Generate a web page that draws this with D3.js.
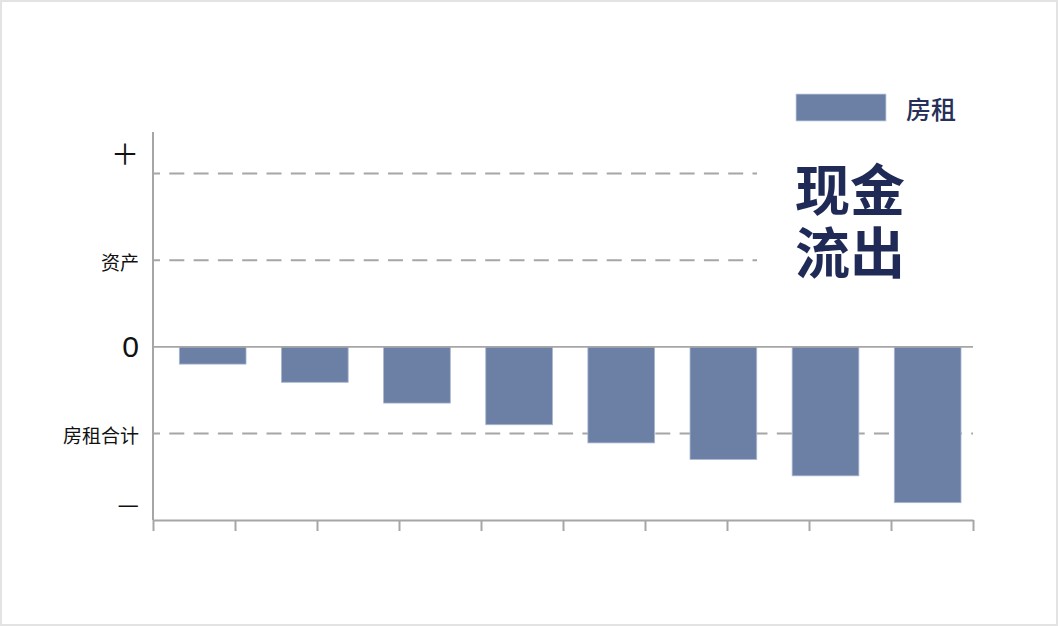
<!DOCTYPE html>
<html><head><meta charset="utf-8">
<script src="https://cdn.jsdelivr.net/npm/d3@7"></script>
<style>body{margin:0;background:#fff}svg{display:block}</style>
</head><body>
<script>
const categories = ["1","2","3","4","5","6","7","8"];
const rentValues = [-0.20,-0.41,-0.65,-0.90,-1.11,-1.30,-1.49,-1.80];
const yTickValues = [2.24, 1, 0, -1, -1.8];
const yTickLabels = ["＋", "资产", "0", "房租合计", "—"];
const refLineValues = [2, 1, -1];
const xTickIndex = [0,1,2,3,4,5,6,7,8,9,10];
const legendLabel = "房租";
const titleLines = ["现金", "流出"];

const W = 1058, H = 626;
const cjk = "'Noto Sans CJK SC','Noto Sans',sans-serif";
const svg = d3.select("body").append("svg").attr("width", W).attr("height", H);
svg.append("rect").attr("x",1).attr("y",1).attr("width",W-2).attr("height",H-2)
  .attr("fill","#fff").attr("stroke","#e3e3e3").attr("stroke-width",2);

const x0 = 153, x1 = 973;
const y = d3.scaleLinear().domain([-2, 2.48]).range([520, 132]);
const x = d3.scaleBand().domain(categories).range([x0, x1])
  .paddingInner(0.347).paddingOuter(0.1876).align(0.687);
const xt = d3.scaleLinear().domain([0, 10]).range([x0, x1]);
const grey = "#a6a6a6";

// reference dashed lines
svg.selectAll("line.ref").data(refLineValues).join("line")
  .attr("x1", x0).attr("x2", d => d > 0 ? 757 : x1)
  .attr("y1", d => y(d)).attr("y2", d => y(d))
  .attr("stroke", grey).attr("stroke-width", 2).attr("stroke-dasharray", "15,9.3")
  .attr("stroke-dashoffset", 8);

// bars
svg.selectAll("rect.bar").data(rentValues).join("rect")
  .attr("x", (d,i) => x(categories[i])).attr("width", x.bandwidth())
  .attr("y", d => y(Math.max(0,d))).attr("height", d => Math.abs(y(d) - y(0)))
  .attr("fill", "#6c80a6").attr("stroke", "#a9b6cf").attr("stroke-width", 0.8);

// zero line
svg.append("line").attr("x1", x0).attr("x2", x1).attr("y1", y(0)).attr("y2", y(0))
  .attr("stroke", grey).attr("stroke-width", 1.8);

// y axis line
svg.append("line").attr("x1", x0).attr("x2", x0).attr("y1", y(2.48)).attr("y2", y(-2))
  .attr("stroke", grey).attr("stroke-width", 2);

// bottom axis
const bottom = svg.append("g").attr("transform", `translate(0,${y(-2)})`)
  .call(d3.axisBottom(xt).tickValues(xTickIndex).tickFormat("").tickSize(11).tickSizeOuter(0));
bottom.select(".domain").attr("stroke", grey).attr("stroke-width", 2);
bottom.selectAll(".tick line").attr("stroke", grey).attr("stroke-width", 2);

// y labels
const sizes = [28, 19, 30, 19, 24];
svg.selectAll("text.ylab").data(yTickValues).join("text")
  .attr("x", 139).attr("y", d => y(d) + (d === 1 || d === -1 ? 1.5 : 0))
  .attr("text-anchor", "end").attr("dominant-baseline", "central")
  .attr("font-family", (d,i) => i === 2 ? "'Liberation Sans',Arial,sans-serif" : cjk)
  .attr("font-size", (d,i) => sizes[i]).attr("fill", "#111")
  .text((d,i) => yTickLabels[i]);

// legend
svg.append("rect").attr("x", 796).attr("y", 94).attr("width", 90).attr("height", 27)
  .attr("fill", "#6c80a6").attr("stroke", "#c9d1e0").attr("stroke-width", 0.8);
svg.append("text").attr("x", 906).attr("y", 107.5).attr("dominant-baseline", "central")
  .attr("font-family", cjk).attr("font-weight", 500).attr("font-size", 25)
  .attr("fill", "#263058").text(legendLabel);

// title (single text element, two lines)
const title = svg.append("text").attr("x", 795).attr("y", 210)
  .attr("font-family", cjk).attr("font-weight", "bold").attr("font-size", 55)
  .attr("fill", "#1f2a56");
title.selectAll("tspan").data(titleLines).join("tspan")
  .attr("x", 795).attr("dy", (d,i) => i === 0 ? 0 : 63).text(d => d);
</script>
</body></html>
